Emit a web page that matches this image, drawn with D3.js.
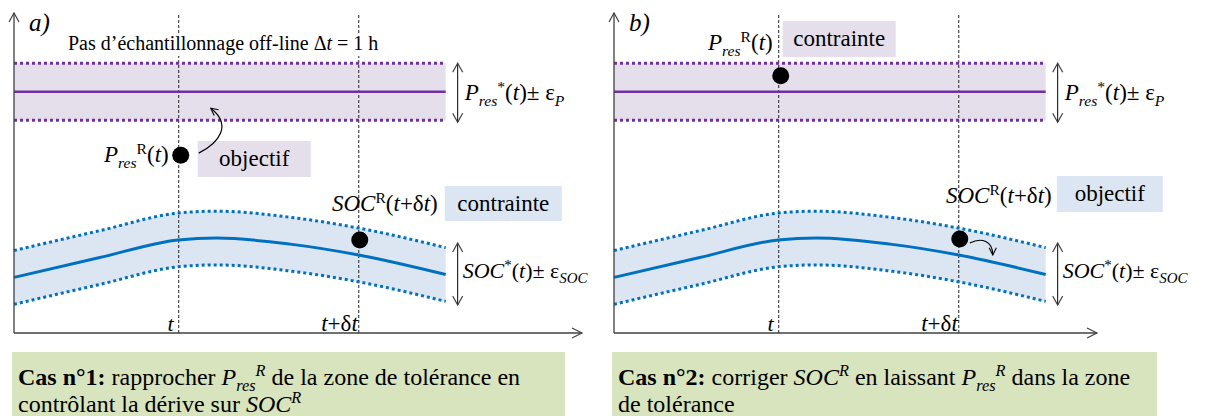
<!DOCTYPE html>
<html><head><meta charset="utf-8">
<script src="https://cdn.jsdelivr.net/npm/d3@7"></script>
<style>
body{margin:0;background:#fff}
svg{display:block}
text, tspan{font-family:'Liberation Serif','Times New Roman',serif;fill:#000;white-space:pre}
</style>
</head><body>
<svg id="c" width="1207" height="416"></svg>
<script>
// ---------------- data ----------------
const panelNames = ["a)", "b)"];
const timeLabels = ["t", "t+δt"];
const timeValues = [29, 60.7];          // position of t and t+δt on the time axis (0-100)
const bandEnd = 76;                      // end of the reference profiles on the time axis
const pResRef = 76;                      // P_res*(t), constant
const epsP = 8.9;                        // tolerance on P_res
const socTimes = [0, 15.1, 28.9, 35.7, 48.6, 60.7, 76];
const socRef   = [18.0, 24.2, 29.7, 30.3, 28.4, 25, 18.9];  // SOC*(t)
const epsSOC = 8.4;                      // tolerance on SOC
const pResReal = [56.2, 81];             // P_res^R(t) in case a) and b)
const socReal  = [29.7, 30];             // SOC^R(t+δt) in case a) and b)
const boxWords = [["objectif", "contrainte"], ["contrainte", "objectif"]]; // [P box, SOC box]

// ---------------- layout ----------------
const FONT = "Liberation Serif, Times New Roman, serif";
const PURPLE = "#7030a0", PFILL = "#e5dfec", BLUE = "#0070c0", BFILL = "#dce6f2", GREEN = "#d7e4bd";
const AX = "#404040";
const axisY = 333, axisTop = 13;
const panelX = [14, 614];
const axisLen = [568, 483];

const svg = d3.select("#c");
const x = d3.scaleLinear().domain([0, 100]).range([0, 568]);
const y = d3.scaleLinear().domain([0, 100]).range([335, 15]);

const defs = svg.append("defs");
defs.append("marker").attr("id", "arr").attr("viewBox", "0 0 10 10")
  .attr("refX", 9).attr("refY", 5).attr("markerWidth", 9).attr("markerHeight", 9)
  .attr("markerUnits", "userSpaceOnUse").attr("orient", "auto")
  .append("path").attr("d", "M1,1 L9,5 L1,9").attr("fill", "none").attr("stroke", "#000").attr("stroke-width", 1.2);

function rich(sel, x0, y0, segs, size, anchor) {
  const t = sel.append("text").attr("x", x0).attr("y", y0).attr("font-size", size)
    .attr("font-family", FONT).attr("text-anchor", anchor || "start");
  let cur = 0;
  segs.forEach(s => {
    const o = typeof s === "string" ? { t: s } : s;
    let target = 0, fs = size;
    if (o.sub) { target = size * 0.24; fs = size * 0.68; }
    if (o.sup) { target = -size * 0.36; fs = size * 0.68; }
    const ts = t.append("tspan").text(o.t).attr("font-size", fs).attr("dy", target - cur);
    if (o.i) ts.attr("font-style", "italic");
    if (o.b) ts.attr("font-weight", "bold");
    cur = target;
  });
  return t;
}
function chevron(g, x0, y0, dx, dy, len, half) {
  const px = -dy, py = dx;
  g.append("path").attr("fill", "none").attr("stroke", AX).attr("stroke-width", 1.2)
    .attr("d", `M${x0 - dx * len + px * half},${y0 - dy * len + py * half} L${x0},${y0} L${x0 - dx * len - px * half},${y0 - dy * len - py * half}`);
}
function dblArrow(g, xx, y1, y2) {
  g.append("line").attr("x1", xx).attr("x2", xx).attr("y1", y1).attr("y2", y2).attr("stroke", "#000").attr("stroke-width", 1);
  chevron(g, xx, y1, 0, -1, 9, 5);
  chevron(g, xx, y2, 0, 1, 9, 5);
}

const socPts = socTimes.map((t, i) => ({ t, v: socRef[i] }));
const curve = d3.curveMonotoneX;
const area = d3.area().x(d => x(d.t)).y0(d => y(d.v - epsSOC)).y1(d => y(d.v + epsSOC)).curve(curve);
const lineC = d3.line().x(d => x(d.t)).y(d => y(d.v)).curve(curve);
const lineU = d3.line().x(d => x(d.t)).y(d => y(d.v + epsSOC)).curve(curve);
const lineL = d3.line().x(d => x(d.t)).y(d => y(d.v - epsSOC)).curve(curve);

panelNames.forEach((name, p) => {
  const g = svg.append("g").attr("transform", `translate(${panelX[p]},0)`);
  const xEnd = x(bandEnd);

  g.append("rect").attr("x", 0).attr("width", xEnd)
    .attr("y", y(pResRef + epsP)).attr("height", y(pResRef - epsP) - y(pResRef + epsP)).attr("fill", PFILL);
  g.append("path").datum(socPts).attr("d", area).attr("fill", BFILL);

  timeValues.forEach(tv => {
    g.append("line").attr("x1", x(tv)).attr("x2", x(tv)).attr("y1", 15).attr("y2", axisY)
      .attr("stroke", "#222").attr("stroke-width", 1).attr("stroke-dasharray", "3,2");
  });

  [pResRef + epsP, pResRef - epsP].forEach(v => {
    g.append("line").attr("x1", 0).attr("x2", xEnd).attr("y1", y(v)).attr("y2", y(v))
      .attr("stroke", PURPLE).attr("stroke-width", 3).attr("stroke-dasharray", "3,3");
  });
  g.append("line").attr("x1", 0).attr("x2", xEnd).attr("y1", y(pResRef)).attr("y2", y(pResRef))
    .attr("stroke", PURPLE).attr("stroke-width", 2.5);

  [lineU, lineL].forEach(l => g.append("path").datum(socPts).attr("d", l).attr("fill", "none")
    .attr("stroke", BLUE).attr("stroke-width", 3).attr("stroke-dasharray", "3,3"));
  g.append("path").datum(socPts).attr("d", lineC).attr("fill", "none").attr("stroke", BLUE).attr("stroke-width", 3);

  g.append("line").attr("x1", 0).attr("x2", 0).attr("y1", axisTop).attr("y2", axisY).attr("stroke", AX).attr("stroke-width", 1.3);
  g.append("line").attr("x1", 0).attr("x2", axisLen[p]).attr("y1", axisY).attr("y2", axisY).attr("stroke", AX).attr("stroke-width", 1.3);
  chevron(g, 0, axisTop, 0, -1, 9, 5);
  chevron(g, axisLen[p], axisY, 1, 0, 10, 5);

  rich(g, 15, 31, [{ t: name, i: true }], 25);

  rich(g, x(timeValues[0]) - 5, 331, [{ t: timeLabels[0], i: true }], 22, "end");
  rich(g, x(timeValues[1]) - 1, 331, [{ t: "t", i: true }, "+δ", { t: "t", i: true }], 23, "end");

  dblArrow(g, xEnd + 12, y(pResRef + epsP), y(pResRef - epsP) + 2);
  rich(g, xEnd + 19, 100, [{ t: "P", i: true }, { t: "res", i: true, sub: true }, { t: "*", sup: true }, "(", { t: "t", i: true }, ")", "± ε", { t: "P", i: true, sub: true }], 23);
  dblArrow(g, xEnd + 12, 243, 305);
  rich(g, xEnd + 17, 278, [{ t: "SOC", i: true }, { t: "*", sup: true }, "(", { t: "t", i: true }, ")", "± ε", { t: "SOC", i: true, sub: true }], 22);

  const dP = { cx: x(timeValues[0]) + 2, cy: y(pResReal[p]) };
  const dS = { cx: x(timeValues[1]) + 1, cy: y(socReal[p]) };
  g.append("circle").attr("cx", dP.cx).attr("cy", dP.cy).attr("r", 8.5).attr("fill", "#000");
  g.append("circle").attr("cx", dS.cx).attr("cy", dS.cy).attr("r", 8.5).attr("fill", "#000");

  const pLab = [{ t: "P", i: true }, { t: "res", i: true, sub: true }, { t: "R", sup: true }, "(", { t: "t", i: true }, ")"];
  const sLab = [{ t: "SOC", i: true }, { t: "R", sup: true }, "(", { t: "t", i: true }, "+δ", { t: "t", i: true }, ")"];

  function box(x0, y0, w, h, fill, word) {
    g.append("rect").attr("x", x0).attr("y", y0).attr("width", w).attr("height", h).attr("fill", fill);
    rich(g, x0 + w / 2, y0 + h / 2 + 7, [word], 23, "middle");
  }

  if (p === 0) {
    g.append("rect").attr("x", 52).attr("y", 33).attr("width", 314).attr("height", 23).attr("fill", "#fff");
    rich(g, 54, 50, ["Pas d’échantillonnage off-line Δ", { t: "t", i: true }, " = 1 h"], 20);
    rich(g, dP.cx - 12, 162, pLab, 23, "end");
    box(dP.cx + 17, 141, 113, 36, PFILL, boxWords[p][0]);
    g.append("path").attr("fill", "none").attr("stroke", "#000").attr("stroke-width", 1.2)
      .attr("marker-end", "url(#arr)")
      .attr("d", `M${dP.cx + 18},${dP.cy - 2} C${dP.cx + 38},${dP.cy - 12} ${dP.cx + 52},${dP.cy - 30} ${dP.cx + 30},${dP.cy - 47}`);
    rich(g, dS.cx + 78, 211, sLab, 23, "end");
    box(dS.cx + 85, 186, 117, 35, BFILL, boxWords[p][1]);
  } else {
    rich(g, dP.cx - 8, 50, pLab, 23, "end");
    box(dP.cx + 2, 21, 113, 36, PFILL, boxWords[p][0]);
    rich(g, dS.cx + 92, 203, sLab, 23, "end");
    box(dS.cx + 97, 176, 106, 36, BFILL, boxWords[p][1]);
    g.append("path").attr("fill", "none").attr("stroke", "#000").attr("stroke-width", 1.2)
      .attr("marker-end", "url(#arr)")
      .attr("d", `M${dS.cx + 10},${dS.cy + 4} C${dS.cx + 22},${dS.cy - 2} ${dS.cx + 33},${dS.cy + 2} ${dS.cx + 33},${dS.cy + 16}`);
  }
});

const caseX = [12, 612], caseW = [553, 545];
const caseLines = [
  [[{ t: "Cas n°1:", b: true }, " rapprocher ", { t: "P", i: true }, { t: "res", i: true, sub: true }, { t: "R", i: true, sup: true }, " de la zone de tolérance en"],
   ["contrôlant la dérive sur ", { t: "SOC", i: true }, { t: "R", i: true, sup: true }]],
  [[{ t: "Cas n°2:", b: true }, " corriger ", { t: "SOC", i: true }, { t: "R", i: true, sup: true }, " en laissant ", { t: "P", i: true }, { t: "res", i: true, sub: true }, { t: "R", i: true, sup: true }, " dans la zone"],
   ["de tolérance"]]
];
caseLines.forEach((lines, i) => {
  svg.append("rect").attr("x", caseX[i]).attr("y", 352).attr("width", caseW[i]).attr("height", 70).attr("fill", GREEN);
  lines.forEach((segs, j) => rich(svg, caseX[i] + 6, 385 + j * 27, segs, 24));
});
</script>
</body></html>
